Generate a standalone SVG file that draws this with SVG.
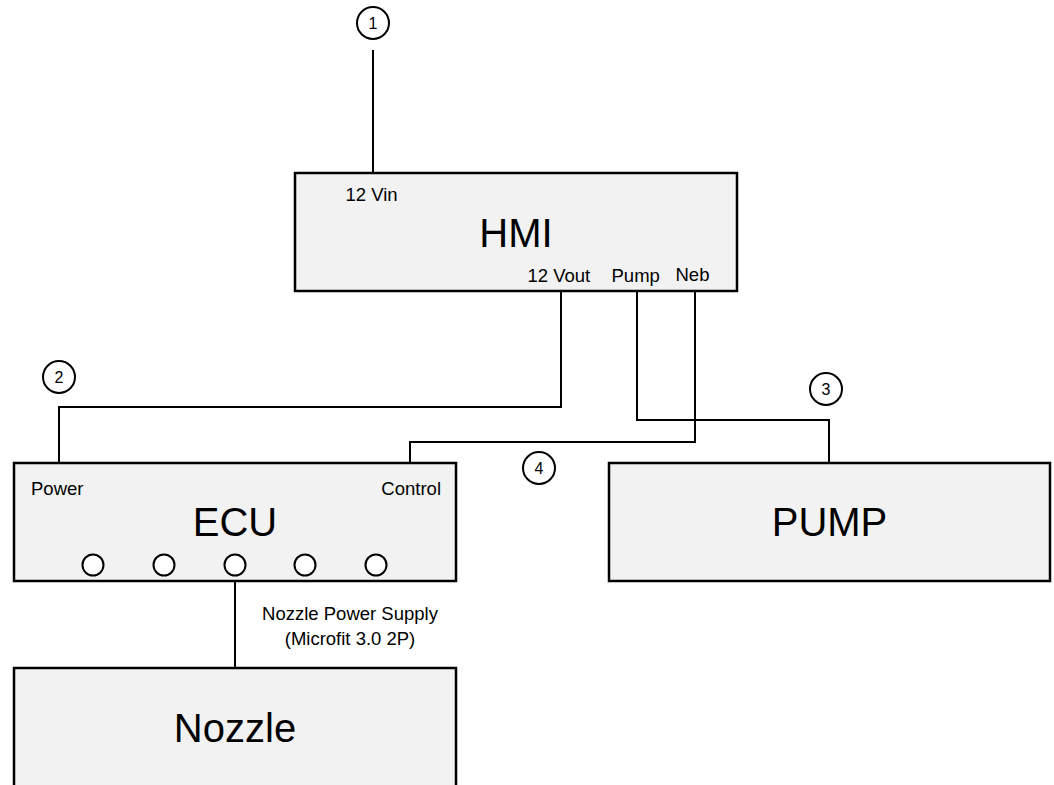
<svg xmlns="http://www.w3.org/2000/svg" width="1054" height="785" viewBox="0 0 1054 785">
<style>
.box{fill:#f2f2f2;stroke:#000;stroke-width:2.5}
.wire{fill:none;stroke:#000;stroke-width:2}
.badge{fill:#fff;stroke:#000;stroke-width:2}
.port{fill:#fff;stroke:#000;stroke-width:2}
text{font-family:"Liberation Sans",Arial,sans-serif;fill:#000}
.big{font-size:40px;text-anchor:middle}
.lbl{font-size:18.5px}
.num{font-size:16px;text-anchor:middle}
</style>
<rect width="1054" height="785" fill="#fff"/>
<g id="connectors">
<path class="wire" d="M373,50 V173"/>
<path class="wire" d="M561,291 V407 H59 V463"/>
<path class="wire" d="M637,291 V420 H829 V463"/>
<path class="wire" d="M695,291 V442 H410 V463"/>
<path class="wire" d="M235,581 V668"/>
</g>
<g id="hmi">
<rect class="box" x="295" y="173" width="442" height="118"/>
<text class="lbl" x="345.5" y="201">12 Vin</text>
<text class="big" x="516" y="247">HMI</text>
<text class="lbl" x="527.5" y="282">12 Vout</text>
<text class="lbl" x="611.5" y="282">Pump</text>
<text class="lbl" x="675.5" y="281">Neb</text>
</g>
<g id="ecu">
<rect class="box" x="14" y="463" width="442" height="118"/>
<text class="lbl" x="31" y="495">Power</text>
<text class="lbl" x="441" y="495" text-anchor="end">Control</text>
<text class="big" x="235" y="536">ECU</text>
<circle class="port" cx="93" cy="565" r="10.5"/>
<circle class="port" cx="164" cy="565" r="10.5"/>
<circle class="port" cx="235" cy="565" r="10.5"/>
<circle class="port" cx="305" cy="565" r="10.5"/>
<circle class="port" cx="376" cy="565" r="10.5"/>
</g>
<g id="pump">
<rect class="box" x="609" y="463" width="441" height="118"/>
<text class="big" x="829.5" y="536">PUMP</text>
</g>
<g id="nozzle">
<rect class="box" x="14" y="668" width="442" height="140"/>
<text class="big" x="235" y="742">Nozzle</text>
</g>
<g id="nozzle-label">
<text class="lbl" x="350" y="620" text-anchor="middle">Nozzle Power Supply</text>
<text class="lbl" x="350" y="645" text-anchor="middle">(Microfit 3.0 2P)</text>
</g>
<g id="badge1">
<circle class="badge" cx="373" cy="23" r="16"/>
<text class="num" x="373" y="29">1</text>
</g>
<g id="badge2">
<circle class="badge" cx="59" cy="377" r="16"/>
<text class="num" x="59" y="383">2</text>
</g>
<g id="badge3">
<circle class="badge" cx="826" cy="389" r="16"/>
<text class="num" x="826" y="395">3</text>
</g>
<g id="badge4">
<circle class="badge" cx="539" cy="468" r="16"/>
<text class="num" x="539" y="474">4</text>
</g>
</svg>
